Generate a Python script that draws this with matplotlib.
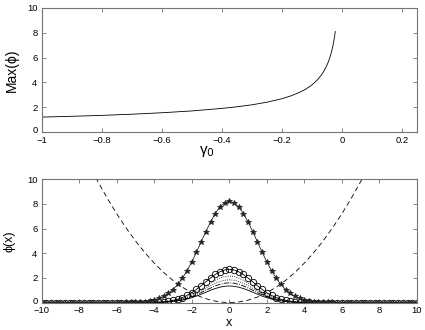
import numpy as np
import matplotlib.pyplot as plt
from matplotlib.transforms import ScaledTranslation

plt.rcParams.update({
    'font.family': 'Liberation Sans',
    'font.size': 7,
})

# top panel: Max(phi) against gamma_0
gamma0 = [-1.0, -0.9, -0.8, -0.7, -0.6, -0.5, -0.4, -0.35, -0.3, -0.25,
          -0.2, -0.17, -0.15, -0.14, -0.13, -0.12, -0.11, -0.1, -0.09,
          -0.08, -0.07, -0.06, -0.05, -0.045, -0.04, -0.035, -0.03,
          -0.027, -0.024, -0.022]
max_phi = [1.20, 1.265, 1.34, 1.434, 1.55, 1.697, 1.90, 2.03, 2.19, 2.40,
           2.68, 2.91, 3.10, 3.21, 3.33, 3.46, 3.62, 3.79, 4.00,
           4.24, 4.54, 4.90, 5.37, 5.66, 6.00, 6.41, 6.93,
           7.30, 7.75, 8.10]

# bottom panel: profiles on x = 0..10 (step 0.25), mirrored to negative x
half_star = [8.20, 8.08, 7.75, 7.22, 6.53, 5.75, 4.92, 4.09, 3.30, 2.59,
             1.98, 1.47, 1.06, 0.74, 0.51, 0.34, 0.22, 0.135, 0.08, 0.05,
             0.03, 0.015, 0.01] + [0.0] * 18
half_circ = [2.70, 2.65, 2.50, 2.28, 1.99, 1.68, 1.37, 1.07, 0.80, 0.58,
             0.41, 0.27, 0.18, 0.11, 0.066, 0.038, 0.021, 0.011, 0.005,
             0.003] + [0.0] * 21
half_dot1 = [2.15, 2.11, 1.99, 1.81, 1.59, 1.34, 1.09, 0.85, 0.64, 0.46,
             0.32, 0.22, 0.14, 0.09, 0.05, 0.03, 0.02, 0.01] + [0.0] * 23
half_dot2 = [1.85, 1.81, 1.71, 1.56, 1.37, 1.15, 0.94, 0.73, 0.55, 0.40,
             0.28, 0.19, 0.12, 0.08, 0.05, 0.03, 0.01, 0.01] + [0.0] * 23
half_dash = [1.60, 1.57, 1.48, 1.35, 1.18, 1.00, 0.81, 0.63, 0.48, 0.35,
             0.24, 0.16, 0.10, 0.07, 0.04, 0.02, 0.01, 0.01] + [0.0] * 23
half_sol = [1.35, 1.32, 1.25, 1.14, 1.00, 0.84, 0.68, 0.53, 0.40, 0.29,
            0.20, 0.14, 0.09, 0.05, 0.03, 0.02, 0.01, 0.01] + [0.0] * 23

# trap potential, x = 0..10 step 0.5
half_pot = [0.0, 0.05, 0.2, 0.45, 0.8, 1.25, 1.8, 2.45, 3.2, 4.05, 5.0,
            6.05, 7.2, 8.45, 9.8, 11.25, 12.8, 14.45, 16.2, 18.05, 20.0]

def mirror(h):
    h = np.asarray(h)
    return np.concatenate([h[:0:-1], h])

x = mirror(np.arange(41) * 0.25) * 1.0
x[:40] *= -1
xp = mirror(np.arange(21) * 0.5)
xp[:20] *= -1

fig = plt.figure(figsize=(4.25, 3.3), dpi=100)
ax1 = fig.add_axes([0.098, 0.6, 0.883, 0.376])
ax2 = fig.add_axes([0.098, 0.083, 0.883, 0.374])

lw = 0.6
ax1.plot(gamma0, max_phi, color='k', lw=lw)
ax1.set_xlim(-1, 0.25)
ax1.set_ylim(0, 10)
ax1.set_xticks([-1, -0.8, -0.6, -0.4, -0.2, 0, 0.2])
ax1.set_xticklabels(['\u22121', '\u22120.8', '\u22120.6', '\u22120.4',
                     '\u22120.2', '0', '0.2'])
ax1.set_yticks([0, 2, 4, 6, 8, 10])
ax1.set_ylabel('Max(\u03d5)', fontsize=10, labelpad=6)
ax1.set_xlabel('\u03b3$_0$', fontsize=11, labelpad=0)
ax1.xaxis.set_label_coords(0.44, -0.1)

ax2.plot(xp, mirror(half_pot), color='k', lw=lw, ls=(0, (6, 4)))
ax2.plot(x, mirror(half_sol), color='k', lw=lw)
ax2.plot(x, mirror(half_dash), color='k', lw=lw, ls='-.')
ax2.plot(x, mirror(half_dot2), color='k', lw=lw, ls=':')
ax2.plot(x, mirror(half_dot1), color='k', lw=lw, ls=':')
ax2.plot(x, mirror(half_circ), color='k', lw=lw, marker='o', ms=4.6,
         mfc='none', mew=0.6)
ax2.plot(x, mirror(half_star), color='0.15', lw=lw, marker='*', ms=3.8,
         mew=0.6)
ax2.set_xlim(-10, 10)
ax2.set_ylim(0, 10)
ax2.set_xticks(range(-10, 11, 2))
ax2.set_xticklabels([str(v).replace('-', '\u2212') for v in range(-10, 11, 2)])
ax2.set_yticks([0, 2, 4, 6, 8, 10])
ax2.set_ylabel('\u03d5(x)', fontsize=9, labelpad=8)
ax2.set_xlabel('x', fontsize=9, labelpad=1)

for ax in (ax1, ax2):
    for s in ax.spines.values():
        s.set_color('0.45')
        s.set_linewidth(0.8)
    ax.tick_params(direction='in', top=True, right=True, length=3,
                   width=0.6, color='0.45', labelsize=6.8)
    ax.tick_params(axis='x', pad=2.8)
    ax.tick_params(axis='y', pad=3)
    ax.patch.set_alpha(0)
    # lift the bottom y label a touch so it clears the first x label
    lab = ax.get_yticklabels()[0]
    lab.set_transform(lab.get_transform()
                      + ScaledTranslation(0, 1.5 / 72, fig.dpi_scale_trans))

fig.savefig('out.png', dpi=100)
